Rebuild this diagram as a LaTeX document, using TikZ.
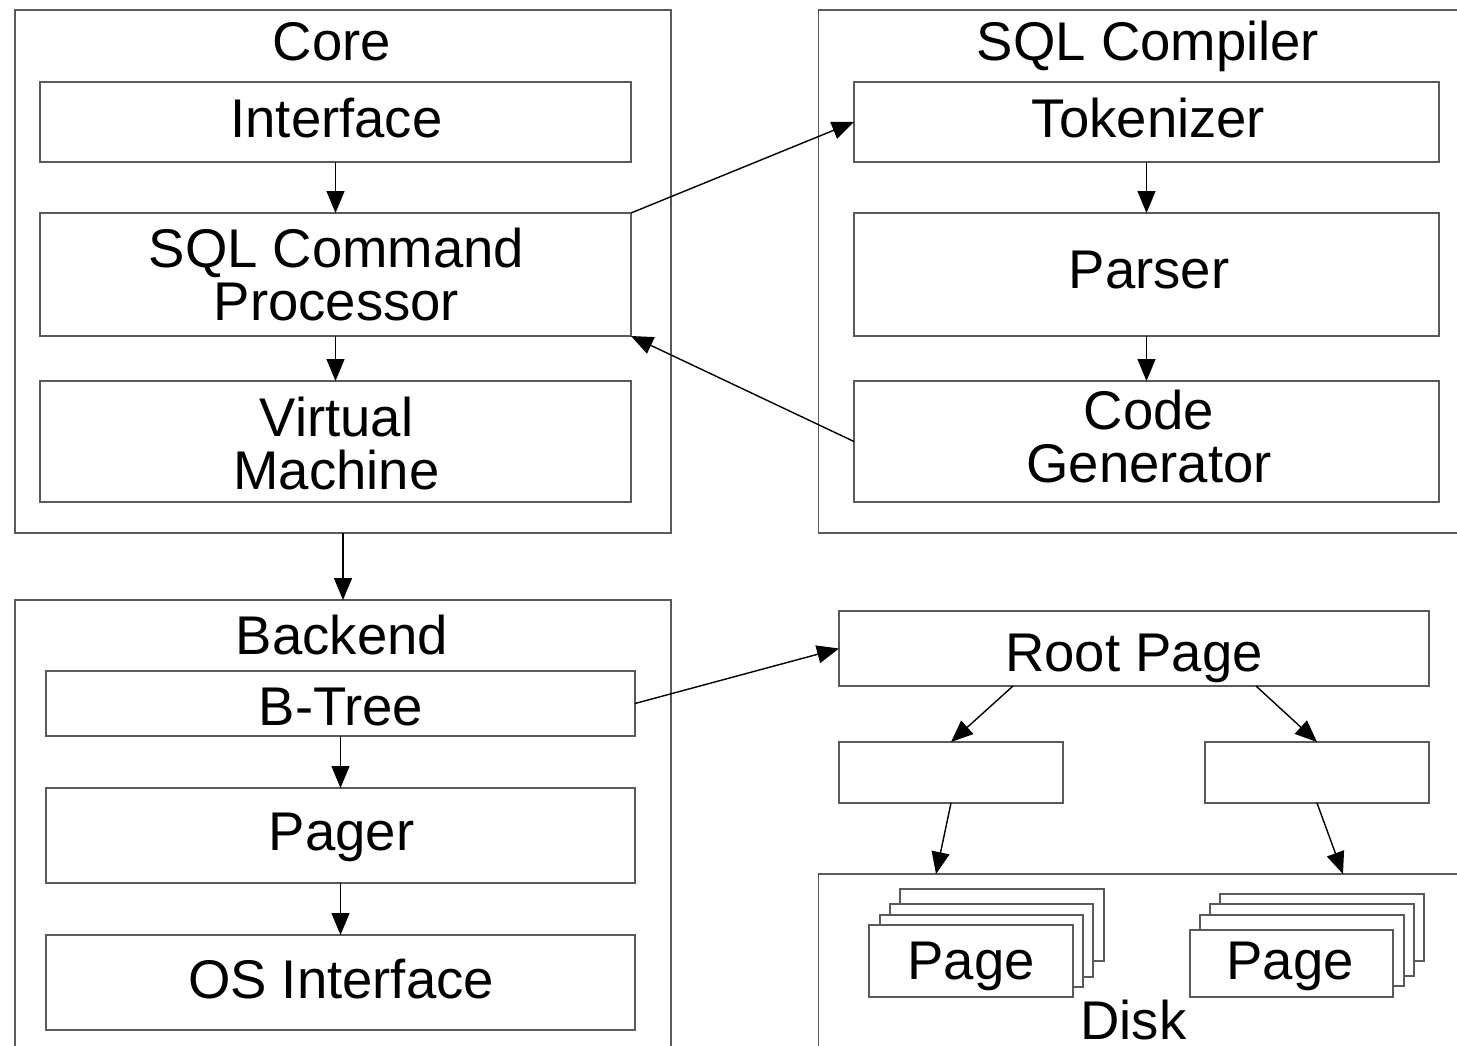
\documentclass[tikz,border=0pt]{standalone}
\usepackage{fontspec}
\setmainfont{Liberation Sans}
\usetikzlibrary{arrows.meta}
\definecolor{boxline}{RGB}{90,90,90}
\begin{document}
\begin{tikzpicture}[x=1pt,y=-1pt,
  box/.style={draw=boxline, line width=1.5pt, fill=white, rectangle, inner sep=0pt, outer sep=0pt},
  lbl/.style={inner sep=0pt, outer sep=0pt, font=\fontsize{54.5}{53}\selectfont, anchor=base},
  lbltwo/.style={inner sep=0pt, outer sep=0pt, font=\fontsize{54.5}{53}\selectfont, anchor=north, align=center},
  arr/.style={-{Triangle[length=22pt,width=18pt]}, line width=1.4pt, black}]
\useasboundingbox (0,0) rectangle (1457,1045);
\clip (0,0) rectangle (1457,1045);
\fill[white] (0,0) rectangle (1457,1045);
% containers
\node[box, minimum width=656pt, minimum height=523pt] (core) at (343,271.5) {};
\node[box, minimum width=651.5pt, minimum height=523pt] (compiler) at (1144.25,271.5) {};
\node[box, minimum width=656pt, minimum height=470pt] (backend) at (343,835) {};
\node[box, minimum width=651.5pt, minimum height=196pt] (disk) at (1144.25,972) {};
% core boxes
\node[box, minimum width=591pt, minimum height=80pt] (interface) at (335.5,122) {};
\node[box, minimum width=591pt, minimum height=123pt] (scp) at (335.5,274.5) {};
\node[box, minimum width=591pt, minimum height=121pt] (vm) at (335.5,441.5) {};
% compiler boxes
\node[box, minimum width=585pt, minimum height=80pt] (tokenizer) at (1146.5,122) {};
\node[box, minimum width=585pt, minimum height=123pt] (parser) at (1146.5,274.5) {};
\node[box, minimum width=585pt, minimum height=121pt] (codegen) at (1146.5,441.5) {};
% backend boxes
\node[box, minimum width=589pt, minimum height=65pt] (btree) at (340.5,703.5) {};
\node[box, minimum width=589pt, minimum height=95pt] (pager) at (340.5,835.5) {};
\node[box, minimum width=589pt, minimum height=95pt] (osi) at (340.5,982.5) {};
% tree
\node[box, minimum width=590pt, minimum height=75pt] (root) at (1134,648.5) {};
\node[box, minimum width=224pt, minimum height=61pt] (leafL) at (951,772.5) {};
\node[box, minimum width=224pt, minimum height=61pt] (leafR) at (1317,772.5) {};
% page stacks
\node[box, minimum width=204pt, minimum height=72pt] (pl3) at (1002,925) {};
\node[box, minimum width=203pt, minimum height=73pt] (pl2) at (991.5,940.5) {};
\node[box, minimum width=203pt, minimum height=72pt] (pl1) at (981.5,951) {};
\node[box, minimum width=204pt, minimum height=72pt] (pl0) at (971,961) {};
\node[box, minimum width=204pt, minimum height=67pt] (pr3) at (1322,927.5) {};
\node[box, minimum width=204pt, minimum height=72pt] (pr2) at (1312,940) {};
\node[box, minimum width=204pt, minimum height=71pt] (pr1) at (1302,950.5) {};
\node[box, minimum width=203pt, minimum height=67pt] (pr0) at (1291.5,963.5) {};
% texts
\node[lbl] (tcore) at (332,60) {Core};
\node[lbl] (tcomp) at (1148,60) {SQL Compiler};
\node[lbl] (tback) at (342,654) {Backend};
\node[lbl] (tdisk) at (1133.5,1039) {Disk};
\node[lbl] (tinterface) at (336.5,137) {Interface};
\node[lbltwo] (tscp) at (336.5,228) {SQL Command\\Processor};
\node[lbltwo] (tvm) at (336.5,397) {Virtual\\Machine};
\node[lbl] (ttok) at (1148.5,137) {Tokenizer};
\node[lbl] (tparser) at (1149,288) {Parser};
\node[lbltwo] (tcg) at (1149,390) {Code\\Generator};
\node[lbl] (tbtree) at (341,725) {B-Tree};
\node[lbl] (tpager) at (341.5,850) {Pager};
\node[lbl] (tosi) at (341,998) {OS Interface};
\node[lbl] (troot) at (1134,671) {Root Page};
\node[lbl] (tpl) at (971,979) {Page};
\node[lbl] (tpr) at (1290,979) {Page};
% connector anchors
\coordinate (rl) at ([xshift=174pt]root.south west);
\coordinate (rr) at ([xshift=-173pt]root.south east);
\coordinate (dl) at (936,874);
\coordinate (dr) at (1343,874);
% arrows
\draw[arr] (interface.south) -- (scp.north);
\draw[arr] (scp.south) -- (vm.north);
\draw[arr] (core.south) -- (backend.north);
\draw[arr] (scp.north east) -- (tokenizer.west);
\draw[arr] (codegen.west) -- (scp.south east);
\draw[arr] (tokenizer.south) -- (parser.north);
\draw[arr] (parser.south) -- (codegen.north);
\draw[arr] (btree.east) -- (root.west);
\draw[arr] (btree.south) -- (pager.north);
\draw[arr] (pager.south) -- (osi.north);
\draw[arr] (rl) -- (leafL.north);
\draw[arr] (rr) -- (leafR.north);
\draw[arr] (leafL.south) -- (dl);
\draw[arr] (leafR.south) -- (dr);
\end{tikzpicture}
\end{document}
